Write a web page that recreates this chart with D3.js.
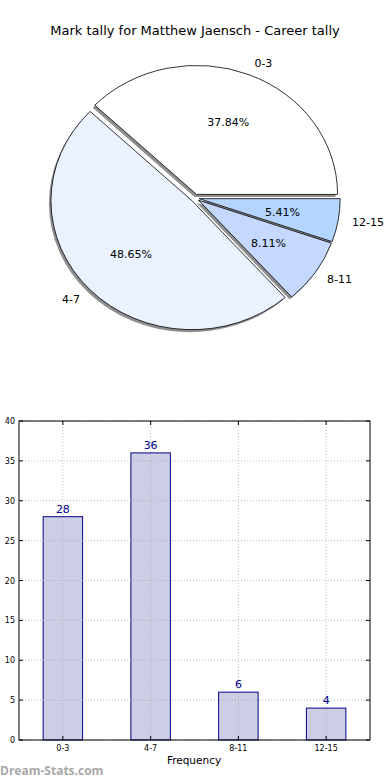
<!DOCTYPE html>
<html><head><meta charset="utf-8">
<script src="https://cdn.jsdelivr.net/npm/d3@7/dist/d3.min.js"></script>
<style>body{margin:0;background:#fff;} svg{display:block;font-family:"DejaVu Sans",sans-serif;}</style>
</head><body>
<script>
const title = "Mark tally for Matthew Jaensch - Career tally";
const categories = ["0-3", "4-7", "8-11", "12-15"];
const counts = [28, 36, 6, 4];
const pieColors = ["#ffffff", "#eaf1ff", "#c5d8ff", "#b3d5ff"];
const yTicks = [0, 5, 10, 15, 20, 25, 30, 35, 40];
const xLabel = "Frequency";
const watermark = "Dream-Stats.com";

const W = 390, H = 780;
const svg = d3.select("body").append("svg").attr("width", W).attr("height", H);
svg.append("rect").attr("width", W).attr("height", H).attr("fill", "#fff");

svg.append("text").attr("x", 195).attr("y", 35).attr("text-anchor", "middle")
  .attr("font-size", 13).attr("fill", "#000").text(title);

// ---- Pie ----
const cx = 195, cy = 198, rx = 141, ry = 129, explode = 0.03;
const total = d3.sum(counts);
const pie = d3.pie().sort(null).startAngle(Math.PI / 2).endAngle(Math.PI / 2 - 2 * Math.PI);
const arcs = pie(counts);
const arc = d3.arc().innerRadius(0).outerRadius(rx);
const info = arcs.map((a, i) => {
  const midD3 = (a.startAngle + a.endAngle) / 2;
  const th = Math.PI / 2 - midD3; // math angle
  const ox = explode * rx * Math.cos(th), oy = -explode * ry * Math.sin(th);
  return {a, i, th, x: cx + ox, y: cy + oy};
});
const sy = ry / rx;
const shadowG = svg.append("g");
info.forEach(d => {
  shadowG.append("path").attr("d", arc(d.a))
    .attr("transform", `translate(${d.x - 2},${d.y + 2.5}) scale(1,${sy})`)
    .attr("fill", "#7a7a7a").attr("opacity", 0.85);
});
const wedgeG = svg.append("g");
info.forEach(d => {
  wedgeG.append("path").attr("d", arc(d.a))
    .attr("transform", `translate(${d.x},${d.y}) scale(1,${sy})`)
    .attr("fill", pieColors[d.i]).attr("stroke", "#000").attr("stroke-width", 0.8)
    .attr("vector-effect", "non-scaling-stroke").attr("stroke-linejoin", "round");
});
info.forEach(d => {
  const c = Math.cos(d.th), s = Math.sin(d.th);
  const lx = d.x + 1.1 * rx * c, ly = d.y - 1.1 * ry * s;
  svg.append("text").attr("x", lx).attr("y", ly).attr("dy", "0.35em")
    .attr("text-anchor", c >= 0 ? "start" : "end").attr("font-size", 11)
    .text(categories[d.i]);
  const px = d.x + 0.6 * rx * c, py = d.y - 0.6 * ry * s;
  svg.append("text").attr("x", px).attr("y", py).attr("dy", "0.35em")
    .attr("text-anchor", "middle").attr("font-size", 11)
    .text((counts[d.i] / total * 100).toFixed(2) + "%");
});

// ---- Bar chart ----
const L = 19, R = 370, T = 421, B = 740;
const x = d3.scaleBand().domain(categories).range([L, R]);
const y = d3.scaleLinear().domain([0, 40]).range([B, T]);
const bw = x.bandwidth() * 0.45;
const g = svg.append("g");
// bars
g.selectAll(".bar").data(counts).enter().append("rect")
  .attr("x", (d, i) => x(categories[i]) + (x.bandwidth() - bw) / 2)
  .attr("y", d => y(d)).attr("width", bw).attr("height", d => B - y(d))
  .attr("fill", "#cdcde5").attr("stroke", "#00008b").attr("stroke-width", 1);
// grid (drawn above bars, as in the reference)
g.selectAll(".vg").data(categories).enter().append("line")
  .attr("x1", d => x(d) + x.bandwidth() / 2).attr("x2", d => x(d) + x.bandwidth() / 2)
  .attr("y1", T).attr("y2", B)
  .attr("stroke", "#aaaaaa").attr("stroke-width", 1).attr("stroke-dasharray", "1,2").attr("opacity", 0.75);
g.selectAll(".hg").data(yTicks).enter().append("line")
  .attr("x1", L).attr("x2", R).attr("y1", d => y(d)).attr("y2", d => y(d))
  .attr("stroke", "#aaaaaa").attr("stroke-width", 1).attr("stroke-dasharray", "1,2").attr("opacity", 0.75);
// value labels
g.selectAll(".vl").data(counts).enter().append("text")
  .attr("x", (d, i) => x(categories[i]) + x.bandwidth() / 2).attr("y", d => y(d) - 4)
  .attr("text-anchor", "middle").attr("font-size", 11).attr("fill", "#00008b").text(d => d);
// frame
g.append("rect").attr("x", L).attr("y", T).attr("width", R - L).attr("height", B - T)
  .attr("fill", "none").attr("stroke", "#000").attr("stroke-width", 1);
// axes
const yAxis = d3.axisLeft(y).tickValues(yTicks).tickSize(0).tickPadding(4);
const ya = g.append("g").attr("transform", `translate(${L},0)`).call(yAxis);
ya.select(".domain").remove();
ya.selectAll("text").attr("font-size", 8).attr("font-family", "DejaVu Sans").attr("fill", "#000");
const xAxis = d3.axisBottom(x).tickSize(0).tickPadding(5);
const xa = g.append("g").attr("transform", `translate(0,${B})`).call(xAxis);
xa.select(".domain").remove();
xa.selectAll("text").attr("font-size", 8).attr("font-family", "DejaVu Sans").attr("fill", "#000");
// inner tick marks
yTicks.forEach(t => {
  g.append("line").attr("x1", L).attr("x2", L + 4).attr("y1", y(t)).attr("y2", y(t)).attr("stroke", "#000");
  g.append("line").attr("x1", R).attr("x2", R - 4).attr("y1", y(t)).attr("y2", y(t)).attr("stroke", "#000");
});
categories.forEach(c => {
  const xc = x(c) + x.bandwidth() / 2;
  g.append("line").attr("x1", xc).attr("x2", xc).attr("y1", B).attr("y2", B - 4).attr("stroke", "#000");
  g.append("line").attr("x1", xc).attr("x2", xc).attr("y1", T).attr("y2", T + 4).attr("stroke", "#000");
});
svg.append("text").attr("x", 194).attr("y", 764).attr("text-anchor", "middle")
  .attr("font-size", 10.5).text(xLabel);
svg.append("text").attr("x", 0).attr("y", 775).attr("font-size", 12).attr("font-weight", "bold")
  .attr("fill", "#a8a8a8").attr("font-family", "Open Sans, DejaVu Sans").text(watermark);
</script>
</body></html>
